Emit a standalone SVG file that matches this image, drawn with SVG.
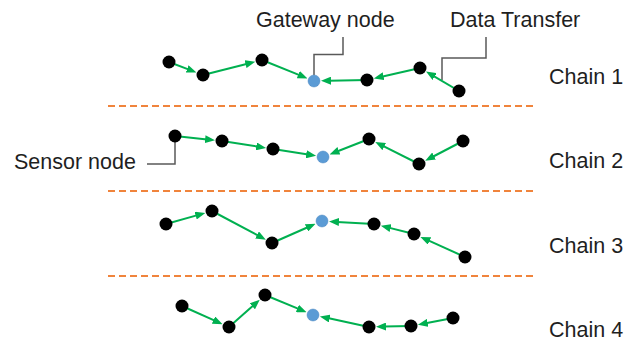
<svg xmlns="http://www.w3.org/2000/svg" width="629" height="345" viewBox="0 0 629 345">
<style>
text{font-family:"Liberation Sans",Arial,sans-serif;font-size:21.5px;fill:#1f1f1f}
.sep{stroke:#f0843c;stroke-width:2;stroke-dasharray:7 4;fill:none}
.lead{stroke:#595959;stroke-width:1.5;fill:none}
.e{stroke:#00b050;stroke-width:2;fill:none;marker-end:url(#ah)}
.n{fill:#000}
.g{fill:#5b9bd5;stroke:#4a86c0;stroke-width:0.5}
</style>
<defs>
<marker id="ah" viewBox="0 0 10 8" markerWidth="10" markerHeight="8" refX="2" refY="4" orient="auto" markerUnits="userSpaceOnUse">
<path d="M0,0 L10,4 L0,8 z" fill="#00b050"/>
</marker>
</defs>
<rect width="629" height="345" fill="#fff"/>
<g id="separators">
<line class="sep" x1="108" y1="106" x2="533" y2="106"/>
<line class="sep" x1="108" y1="191" x2="533" y2="191"/>
<line class="sep" x1="108" y1="276" x2="533" y2="276"/>
</g>
<g id="leaders">
<path class="lead" d="M314,75 V54.5 H343 V37"/>
<path class="lead" d="M442,80 V58 H486 V37"/>
<path class="lead" d="M147,164 H175 V137"/>
</g>
<g id="connectors">
<line class="e" x1="169" y1="62" x2="189" y2="69.6"/>
<line class="e" x1="203" y1="75" x2="247.5" y2="63.7"/>
<line class="e" x1="262" y1="60" x2="300.1" y2="75.4"/>
<line class="e" x1="367" y1="80" x2="329" y2="80.7"/>
<line class="e" x1="420" y1="68" x2="381.6" y2="76.7"/>
<line class="e" x1="459" y1="91" x2="432.9" y2="75.6"/>
<line class="e" x1="175" y1="136" x2="207.1" y2="139.4"/>
<line class="e" x1="222" y1="141" x2="258.2" y2="146.7"/>
<line class="e" x1="273" y1="149" x2="308.2" y2="154.6"/>
<line class="e" x1="369" y1="139" x2="337" y2="151.5"/>
<line class="e" x1="419" y1="164" x2="382.4" y2="145.7"/>
<line class="e" x1="463" y1="141" x2="432.3" y2="157"/>
<line class="e" x1="166" y1="224" x2="197.6" y2="215.1"/>
<line class="e" x1="212" y1="211" x2="258.8" y2="235.9"/>
<line class="e" x1="272" y1="243" x2="308.3" y2="227"/>
<line class="e" x1="374" y1="224" x2="337" y2="221.9"/>
<line class="e" x1="414" y1="234" x2="388.6" y2="227.6"/>
<line class="e" x1="465" y1="257" x2="427.7" y2="240.2"/>
<line class="e" x1="182" y1="306" x2="215.3" y2="320.9"/>
<line class="e" x1="229" y1="327" x2="253.8" y2="305"/>
<line class="e" x1="265" y1="295" x2="299.2" y2="309.2"/>
<line class="e" x1="369" y1="327" x2="327.7" y2="318.1"/>
<line class="e" x1="411" y1="326" x2="384" y2="326.6"/>
<line class="e" x1="453" y1="318" x2="425.7" y2="323.2"/>
</g>
<g id="chain1">
<circle class="n" cx="169" cy="62" r="6.5"/>
<circle class="n" cx="203" cy="75" r="6.5"/>
<circle class="n" cx="262" cy="60" r="6.5"/>
<circle class="g" cx="314" cy="81" r="6"/>
<circle class="n" cx="367" cy="80" r="6.5"/>
<circle class="n" cx="420" cy="68" r="6.5"/>
<circle class="n" cx="459" cy="91" r="6.5"/>
<text x="549" y="84">Chain 1</text>
</g>
<g id="chain2">
<circle class="n" cx="175" cy="136" r="6.5"/>
<circle class="n" cx="222" cy="141" r="6.5"/>
<circle class="n" cx="273" cy="149" r="6.5"/>
<circle class="g" cx="323" cy="157" r="6"/>
<circle class="n" cx="369" cy="139" r="6.5"/>
<circle class="n" cx="419" cy="164" r="6.5"/>
<circle class="n" cx="463" cy="141" r="6.5"/>
<text x="549" y="168">Chain 2</text>
</g>
<g id="chain3">
<circle class="n" cx="166" cy="224" r="6.5"/>
<circle class="n" cx="212" cy="211" r="6.5"/>
<circle class="n" cx="272" cy="243" r="6.5"/>
<circle class="g" cx="322" cy="221" r="6"/>
<circle class="n" cx="374" cy="224" r="6.5"/>
<circle class="n" cx="414" cy="234" r="6.5"/>
<circle class="n" cx="465" cy="257" r="6.5"/>
<text x="549" y="253">Chain 3</text>
</g>
<g id="chain4">
<circle class="n" cx="182" cy="306" r="6.5"/>
<circle class="n" cx="229" cy="327" r="6.5"/>
<circle class="n" cx="265" cy="295" r="6.5"/>
<circle class="g" cx="313" cy="315" r="6"/>
<circle class="n" cx="369" cy="327" r="6.5"/>
<circle class="n" cx="411" cy="326" r="6.5"/>
<circle class="n" cx="453" cy="318" r="6.5"/>
<text x="549" y="337">Chain 4</text>
</g>
<g id="labels">
<text x="256" y="27">Gateway node</text>
<text x="450" y="27">Data Transfer</text>
<text x="14" y="169">Sensor node</text>
</g>
</svg>
